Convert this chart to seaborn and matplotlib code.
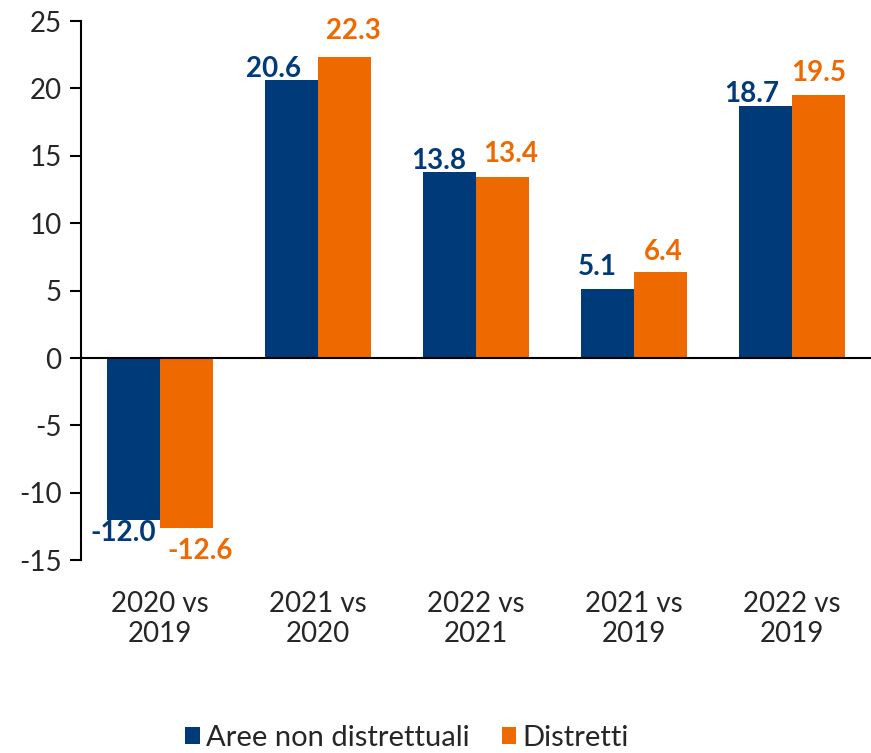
import matplotlib
matplotlib.use("Agg")
import matplotlib.pyplot as plt
import seaborn as sns
import pandas as pd
from matplotlib.patches import Patch

categories = ["2020 vs\n2019", "2021 vs\n2020", "2022 vs\n2021", "2021 vs\n2019", "2022 vs\n2019"]
aree_non_distrettuali = [-12.0, 20.6, 13.8, 5.1, 18.7]
distretti = [-12.6, 22.3, 13.4, 6.4, 19.5]
series_names = ["Aree non distrettuali", "Distretti"]
colors = ["#003A78", "#EE6A00"]
y_ticks = [-15, -10, -5, 0, 5, 10, 15, 20, 25]

# label offsets (pixels) relative to bar centre / bar end, per series
label_dx = [[-10, -18, -11, -10, -14], [14, 9, 8, 3, 0]]
label_gap = [[3, 3, 3, 14, 4], [13, 18, 15, 12, 14]]

df = pd.DataFrame({
    "cat": categories * 2,
    "val": aree_non_distrettuali + distretti,
    "series": [series_names[0]] * len(categories) + [series_names[1]] * len(categories),
})

sns.set_style("white")
plt.rcParams["font.family"] = ["Lato", "DejaVu Sans"]

fig = plt.figure(figsize=(8.71, 7.53), dpi=100)
ax = fig.add_axes([0.093, 0.256, 0.907, 0.716])

sns.barplot(data=df, x="cat", y="val", hue="series", palette=colors,
            width=0.67, gap=0, ax=ax, saturation=1, errorbar=None, legend=False,
            linewidth=0)

for si, (cont, c) in enumerate(zip(ax.containers, colors)):
    for bi, (bar, v) in enumerate(zip(cont.patches, cont.datavalues)):
        xc = bar.get_x() + bar.get_width() / 2
        if v >= 0:
            ax.annotate(f"{v:.1f}", (xc, v), xytext=(label_dx[si][bi], label_gap[si][bi]),
                        textcoords="offset pixels", ha="center", va="baseline",
                        color=c, fontsize=20, fontweight="bold")
        else:
            ax.annotate(f"{v:.1f}", (xc, v), xytext=(label_dx[si][bi], -label_gap[si][bi] + 3),
                        textcoords="offset pixels", ha="center", va="top",
                        color=c, fontsize=20, fontweight="bold")

ax.set_xlim(-0.5, 4.5)
ax.set_ylim(-15, 25)
ax.set_yticks(y_ticks)
ax.set_yticklabels([str(t) for t in y_ticks], fontsize=20)
ax.tick_params(axis="y", length=8, width=1.5, color="black", pad=6, direction="out", left=True)
ax.tick_params(axis="x", length=0, labelsize=20, pad=22)
ax.set_xlabel("")
ax.set_ylabel("")
for s in ["top", "right", "bottom"]:
    ax.spines[s].set_visible(False)
ax.spines["left"].set_color("black")
ax.spines["left"].set_linewidth(1.5)
ax.axhline(0, color="black", linewidth=1.5, zorder=3)

handles = [Patch(facecolor=c, edgecolor="none") for c in colors]
fig.legend(handles, series_names, loc="lower left", bbox_to_anchor=(185 / 871, 0.003), ncol=2,
           frameon=False, fontsize=21, handlelength=0.5, handleheight=0.5,
           handletextpad=0.22, columnspacing=1.1, borderpad=0, borderaxespad=0)

fig.savefig("out.png", dpi=100)
